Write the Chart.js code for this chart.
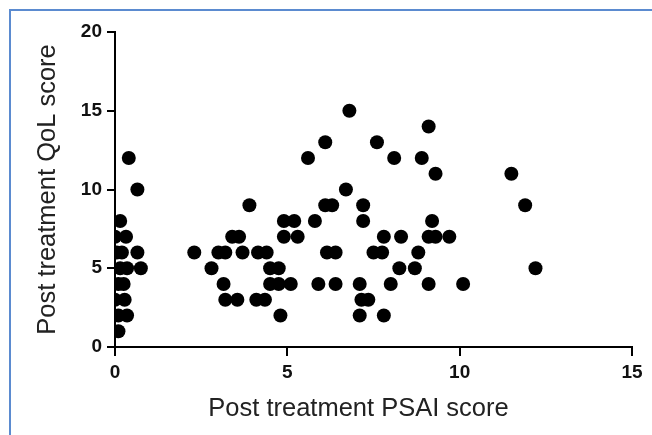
<!DOCTYPE html>
<html>
<head>
<meta charset="utf-8">
<script src="https://cdn.jsdelivr.net/npm/chart.js@4/dist/chart.umd.min.js"></script>
<style>
  html, body { margin: 0; padding: 0; background: #fff; overflow: hidden; }
  #wrap { position: relative; width: 652px; height: 435px; }
  #frame { position: absolute; left: 9px; top: 9px; width: 700px; height: 500px;
           border-left: 2px solid #5b8bd0; border-top: 2px solid #5b8bd0; pointer-events: none; }
  canvas { position: absolute; left: 0; top: 0; }
</style>
</head>
<body>
<div id="wrap">
  <canvas id="c" width="652" height="435"></canvas>
  <div id="frame"></div>
</div>
<script>
// Post treatment PSAI score (x) and Post treatment QoL score (y)
const psaiScores = [
  0.15, 0.0, 0.32, 0.05, 0.2, 0.65, 0.15, 0.35, 0.75, 0.1, 0.25, 0.0, 0.28, 0.1, 0.35, 0.1, 0.4, 0.65,
  3.9, 6.1, 6.3, 7.2,
  4.9, 5.2, 5.8, 7.2, 9.2,
  3.4, 3.6, 4.9, 5.3, 7.8, 8.3, 9.1, 9.3, 9.7,
  2.3, 3.0, 3.2, 3.7, 4.15, 4.4, 6.15, 6.4, 7.5, 7.75, 8.8,
  2.8, 4.5, 4.75, 8.25, 8.7, 12.2,
  3.15, 4.5, 4.75, 5.1, 5.9, 6.4, 7.1, 8.0, 9.1, 10.1,
  3.2, 3.55, 4.1, 4.35, 7.15, 7.35,
  4.8, 7.1, 7.8,
  6.8, 9.1, 6.1, 7.6, 5.6, 8.1, 8.9, 9.3, 11.5, 6.7, 11.9
];
const qolScores = [
  8, 7, 7, 6, 6, 6, 5, 5, 5, 4, 4, 3, 3, 2, 2, 1, 12, 10,
  9, 9, 9, 9,
  8, 8, 8, 8, 8,
  7, 7, 7, 7, 7, 7, 7, 7, 7,
  6, 6, 6, 6, 6, 6, 6, 6, 6, 6, 6,
  5, 5, 5, 5, 5, 5,
  4, 4, 4, 4, 4, 4, 4, 4, 4, 4,
  3, 3, 3, 3, 3, 3,
  2, 2, 2,
  15, 14, 13, 13, 12, 12, 12, 11, 11, 10, 9
];
const xTicks = [0, 5, 10, 15];
const yTicks = [0, 5, 10, 15, 20];
const xTitle = 'Post treatment PSAI score';
const yTitle = 'Post treatment QoL score';

const points = psaiScores.map((x, i) => ({ x: x, y: qolScores[i] }));
const family = "'Liberation Sans', Arial, sans-serif";

// draws the x-axis title slightly left of centre, as in the original figure
const xTitlePlugin = {
  id: 'xTitlePlugin',
  afterDraw(chart) {
    const { ctx, chartArea } = chart;
    ctx.save();
    ctx.font = "25.5px " + family;
    ctx.fillStyle = '#222';
    ctx.textAlign = 'center';
    ctx.textBaseline = 'middle';
    ctx.fillText(xTitle, (chartArea.left + chartArea.right) / 2 - 15, chartArea.bottom + 62);
    ctx.restore();
  }
};

new Chart(document.getElementById('c'), {
  type: 'scatter',
  data: {
    datasets: [{
      data: points,
      backgroundColor: '#000',
      borderColor: '#000',
      borderWidth: 0,
      pointRadius: 7,
      pointHoverRadius: 7
    }]
  },
  options: {
    responsive: false,
    animation: false,
    events: [],
    layout: { padding: { left: 0, top: 32, right: 20, bottom: 0 } },
    plugins: { legend: { display: false }, tooltip: { enabled: false } },
    scales: {
      x: {
        type: 'linear',
        min: xTicks[0], max: xTicks[xTicks.length - 1],
        afterBuildTicks: s => { s.ticks = xTicks.map(v => ({ value: v })); },
        afterFit: s => { s.height = 88; },
        ticks: { color: '#111', padding: 5, font: { family, size: 19, weight: 'bold' } },
        grid: { drawOnChartArea: false, drawTicks: true, tickLength: 9, color: '#000', lineWidth: 2 },
        border: { display: true, color: '#000', width: 2 },
        title: { display: false }
      },
      y: {
        type: 'linear',
        min: yTicks[0], max: yTicks[yTicks.length - 1],
        afterBuildTicks: s => { s.ticks = yTicks.map(v => ({ value: v })); },
        afterFit: s => { s.width = 115; },
        ticks: { color: '#111', padding: 5, font: { family, size: 19, weight: 'bold' } },
        grid: { drawOnChartArea: false, drawTicks: true, tickLength: 8, color: '#000', lineWidth: 2 },
        border: { display: true, color: '#000', width: 2 },
        title: { display: true, text: yTitle, color: '#222', font: { family, size: 25.5 }, padding: { top: 33, bottom: 0 } }
      }
    }
  },
  plugins: [xTitlePlugin]
});
</script>
</body>
</html>
